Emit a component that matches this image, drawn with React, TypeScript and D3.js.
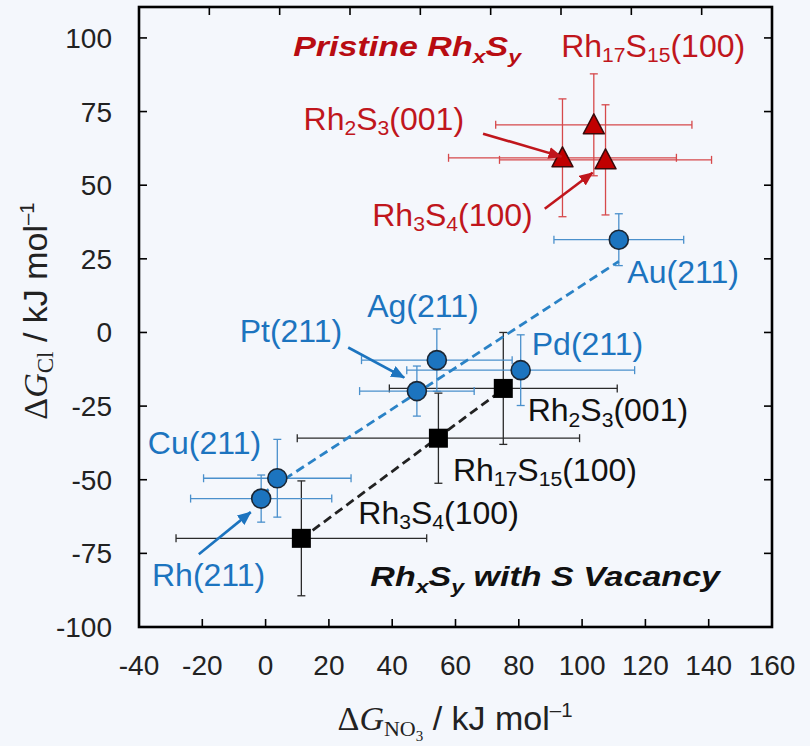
import React from 'react';
import * as d3 from 'd3';

const W = 810;
const H = 746;

// M(211) surfaces (blue circles)
const metalNames = ['Rh(211)', 'Cu(211)', 'Pt(211)', 'Ag(211)', 'Pd(211)', 'Au(211)'];
const metalX = [-1.4, 3.7, 47.8, 54.1, 80.6, 111.6];
const metalY = [-56.4, -49.5, -19.9, -9.4, -12.8, 31.5];
const metalXErr = [22.3, 23.3, 18.1, 23.8, 36, 20.5];
const metalYErr = [8, 13.2, 8.5, 10.6, 12, 8.8];

// RhxSy with S vacancy (black squares)
const vacNames = ['Rh3S4(100)', 'Rh17S15(100)', 'Rh2S3(001)'];
const vacX = [11.3, 54.6, 75.1];
const vacY = [-69.9, -35.9, -19];
const vacXErr = [39.6, 44.6, 36];
const vacYErr = [19.5, 15.3, 19];

// pristine RhxSy (red triangles)
const priNames = ['Rh2S3(001)', 'Rh17S15(100)', 'Rh3S4(100)'];
const priX = [93.8, 103.7, 107.4];
const priY = [59.3, 70.5, 58.6];
const priXErr = [36, 31, 33.5];
const priYErr = [20, 17.3, 18.7];

const xTicks = [-40, -20, 0, 20, 40, 60, 80, 100, 120, 140, 160];
const yTicks = [100, 75, 50, 25, 0, -25, -50, -75, -100];

// label anchors (data units, baseline-left)
const metalLabelX = [-35.9, -37.2, -8.2, 32.1, 84.1, 114.3];
const metalLabelY = [-86.1, -41.4, -3.1, 5.1, -7.5, 16.9];
const vacLabelX = [29.3, 59.2, 82.8];
const vacLabelY = [-65.1, -50.5, -30.2];
const priLabelX = [12, 93.4, 33.7];
const priLabelY = [68.8, 93.6, 36.3];

// arrows: [x1, y1, x2, y2]
const redArrows = [
  [68.7, 67.5, 93.5, 59.7],
  [88.2, 42, 103.3, 54.2],
];
const blueArrows = [
  [26.1, -5.1, 43.8, -15.3],
  [-21.1, -75.3, -4.7, -61],
];

const RED = '#c0161c';
const BLUE = '#1c74bf';
const SANS = '"Liberation Sans", Arial, sans-serif';
const SERIF = '"Liberation Serif", "Times New Roman", serif';

const x = d3.scaleLinear().domain([-40, 160]).range([139, 772]);
const y = d3.scaleLinear().domain([-100, 110.5]).range([627, 7]);
const topTicks = d3.scaleLinear().domain([0, 9]).range([139, 772]);

type Part = { t: string; sub?: number; sup?: boolean; italic?: boolean; serif?: boolean; size?: number; shift?: number };

const chemParts = (name: string): Part[] => {
  const i = name.indexOf('(');
  const parts: Part[] = [];
  name.slice(0, i).replace(/([A-Za-z]+)(\d*)/g, (_m, el, n) => {
    parts.push({ t: el });
    if (n) parts.push({ t: n, sub: 1 });
    return '';
  });
  parts.push({ t: name.slice(i) });
  return parts;
};

// renders tspans with sub/superscripts, resetting the baseline after each
const Rich = ({ parts, fs, subScale = 0.6, subShift = 0.18 }: { parts: Part[]; fs: number; subScale?: number; subShift?: number }) => {
  let level = 0;
  return (
    <>
      {parts.map((p, k) => {
        let target = 0;
        let size = fs;
        if (p.sub) {
          target = p.shift ?? fs * subShift * p.sub;
          size = p.size ?? fs * Math.pow(subScale, p.sub);
        } else if (p.sup) {
          target = -fs * 0.38;
          size = fs * 0.6;
        }
        const dy = target - level;
        level = target;
        return (
          <tspan
            key={k}
            dy={dy}
            fontSize={size}
            fontStyle={p.italic ? 'italic' : undefined}
            fontFamily={p.serif ? SERIF : undefined}
          >
            {p.t}
          </tspan>
        );
      })}
    </>
  );
};

const ErrBars = ({ xs, ys, xe, ye, color }: { xs: number[]; ys: number[]; xe: number[]; ye: number[]; color: string }) => {
  const cap = 4;
  return (
    <g stroke={color} strokeWidth={1.3} fill="none">
      {xs.map((d, i) => {
        const cx = x(d);
        const cy = y(ys[i]);
        const x0 = x(d - xe[i]);
        const x1 = x(d + xe[i]);
        const y0 = y(ys[i] + ye[i]);
        const y1 = y(ys[i] - ye[i]);
        return (
          <g key={i}>
            <line x1={x0} x2={x1} y1={cy} y2={cy} />
            <line x1={x0} x2={x0} y1={cy - cap} y2={cy + cap} />
            <line x1={x1} x2={x1} y1={cy - cap} y2={cy + cap} />
            <line x1={cx} x2={cx} y1={y0} y2={y1} />
            <line x1={cx - cap} x2={cx + cap} y1={y0} y2={y0} />
            <line x1={cx - cap} x2={cx + cap} y1={y1} y2={y1} />
          </g>
        );
      })}
    </g>
  );
};

// least-squares fit, drawn between the extreme x values
const fitLine = (xs: number[], ys: number[]) => {
  const mx = d3.mean(xs) as number;
  const my = d3.mean(ys) as number;
  const sxy = d3.sum(xs, (d, i) => (d - mx) * (ys[i] - my));
  const sxx = d3.sum(xs, (d) => (d - mx) * (d - mx));
  const b = sxy / sxx;
  const [lo, hi] = d3.extent(xs) as [number, number];
  const f = (v: number) => my + b * (v - mx);
  return d3.line()([
    [x(lo), y(f(lo))],
    [x(hi), y(f(hi))],
  ]) as string;
};

const Arrow = ({ a, color, id }: { a: number[]; color: string; id: string }) => (
  <line
    x1={x(a[0])}
    y1={y(a[1])}
    x2={x(a[2])}
    y2={y(a[3])}
    stroke={color}
    strokeWidth={2.6}
    markerEnd={`url(#${id})`}
  />
);

const App = () => {
  const fsLabel = 32;
  return (
    <svg width={W} height={H} style={{ position: 'absolute', left: 0, top: 0 }} fontFamily={SANS}>
      <defs>
        {[
          ['ahRed', RED],
          ['ahBlue', BLUE],
        ].map(([id, c]) => (
          <marker
            key={id}
            id={id}
            markerUnits="userSpaceOnUse"
            markerWidth={14}
            markerHeight={12}
            refX={13}
            refY={6}
            orient="auto"
          >
            <path d="M0,0 L14,6 L0,12 Z" fill={c} />
          </marker>
        ))}
      </defs>
      <rect width={W} height={H} fill="#f4f7fc" />

      {/* error bars */}
      <ErrBars xs={vacX} ys={vacY} xe={vacXErr} ye={vacYErr} color="#2a2a2a" />
      <ErrBars xs={metalX} ys={metalY} xe={metalXErr} ye={metalYErr} color="#4a90cc" />
      <ErrBars xs={priX} ys={priY} xe={priXErr} ye={priYErr} color="#d6494b" />

      {/* trend lines */}
      <path d={fitLine(metalX, metalY)} stroke="#2a82c6" strokeWidth={2.8} strokeDasharray="9 5" fill="none" />
      <path d={fitLine(vacX, vacY)} stroke="#222" strokeWidth={2.8} strokeDasharray="9 5" fill="none" />

      {/* markers */}
      {metalX.map((d, i) => (
        <circle key={i} cx={x(d)} cy={y(metalY[i])} r={9.5} fill={BLUE} stroke="#1b2633" strokeWidth={1.6} />
      ))}
      {vacX.map((d, i) => (
        <rect key={i} x={x(d) - 9.5} y={y(vacY[i]) - 9.5} width={19} height={19} fill="#000" />
      ))}
      {priX.map((d, i) => (
        <path
          key={i}
          transform={`translate(${x(d)},${y(priY[i])})`}
          d="M0,-11 L10.5,9 L-10.5,9 Z"
          fill="#c00000"
          stroke="#3a0a0a"
          strokeWidth={1.5}
          strokeLinejoin="round"
        />
      ))}

      {/* arrows */}
      {redArrows.map((a, i) => (
        <Arrow key={'r' + i} a={a} color={RED} id="ahRed" />
      ))}
      {blueArrows.map((a, i) => (
        <Arrow key={'b' + i} a={a} color={BLUE} id="ahBlue" />
      ))}

      {/* point labels */}
      {metalNames.map((n, i) => (
        <text key={n} x={x(metalLabelX[i])} y={y(metalLabelY[i])} fontSize={fsLabel} fill={BLUE}>
          {n}
        </text>
      ))}
      {vacNames.map((n, i) => (
        <text key={n} x={x(vacLabelX[i])} y={y(vacLabelY[i])} fontSize={fsLabel} fill="#111">
          <Rich parts={chemParts(n)} fs={fsLabel} subScale={0.66} subShift={0.16} />
        </text>
      ))}
      {priNames.map((n, i) => (
        <text key={n} x={x(priLabelX[i])} y={y(priLabelY[i])} fontSize={fsLabel} fill={RED}>
          <Rich parts={chemParts(n)} fs={fsLabel} subScale={0.66} subShift={0.16} />
        </text>
      ))}

      {/* group titles */}
      <g transform={`translate(${x(8.7)},${y(93.7)}) scale(1.26,1)`}>
        <text fontSize={27} fontWeight="bold" fontStyle="italic" fill="#b80c12">
          <Rich parts={[{ t: 'Pristine Rh' }, { t: 'x', sub: 1 }, { t: 'S' }, { t: 'y', sub: 1 }]} fs={27} subScale={0.68} subShift={0.25} />
        </text>
      </g>
      <g transform={`translate(${x(33.1)},${y(-86.1)}) scale(1.26,1)`}>
        <text fontSize={27} fontWeight="bold" fontStyle="italic" fill="#111">
          <Rich parts={[{ t: 'Rh' }, { t: 'x', sub: 1 }, { t: 'S' }, { t: 'y', sub: 1 }, { t: ' with S Vacancy' }]} fs={27} subScale={0.68} subShift={0.25} />
        </text>
      </g>

      {/* frame and ticks */}
      <g stroke="#000" strokeWidth={1.6}>
        {xTicks.slice(1, -1).map((t) => (
          <line key={'bx' + t} x1={x(t)} x2={x(t)} y1={627} y2={619} />
        ))}
        {d3.range(1, 9).map((t) => (
          <line key={'tx' + t} x1={topTicks(t)} x2={topTicks(t)} y1={7} y2={15} />
        ))}
        {yTicks.slice(0, -1).map((t) => (
          <g key={'y' + t}>
            <line x1={139} x2={147} y1={y(t)} y2={y(t)} />
            <line x1={772} x2={764} y1={y(t)} y2={y(t)} />
          </g>
        ))}
      </g>
      <rect x={139} y={7} width={633} height={620} fill="none" stroke="#000" strokeWidth={2.6} />

      {/* tick labels */}
      {xTicks.map((t) => (
        <text key={'xl' + t} x={x(t)} y={675} fontSize={28} textAnchor="middle" fill="#222">
          {t}
        </text>
      ))}
      {yTicks.map((t) => (
        <text key={'yl' + t} x={112} y={y(t) + 10} fontSize={28} textAnchor="end" fill="#222">
          {t}
        </text>
      ))}

      {/* axis titles */}
      <text x={455} y={730} fontSize={34} textAnchor="middle" fill="#222">
        <Rich
          parts={[
            { t: 'Δ', serif: true },
            { t: 'G', serif: true, italic: true },
            { t: 'NO', serif: true, sub: 1, size: 22, shift: 6 },
            { t: '3', serif: true, sub: 2, size: 15, shift: 11 },
            { t: ' / kJ mol' },
            { t: '–1', sup: true },
          ]}
          fs={34}
        />
      </text>
      <text transform="translate(47,311) rotate(-90)" fontSize={34} textAnchor="middle" fill="#222">
        <Rich
          parts={[
            { t: 'Δ', serif: true },
            { t: 'G', serif: true, italic: true },
            { t: 'Cl', serif: true, sub: 1, size: 23, shift: 6 },
            { t: ' / kJ mol' },
            { t: '–1', sup: true },
          ]}
          fs={34}
        />
      </text>
    </svg>
  );
};

export default App;
